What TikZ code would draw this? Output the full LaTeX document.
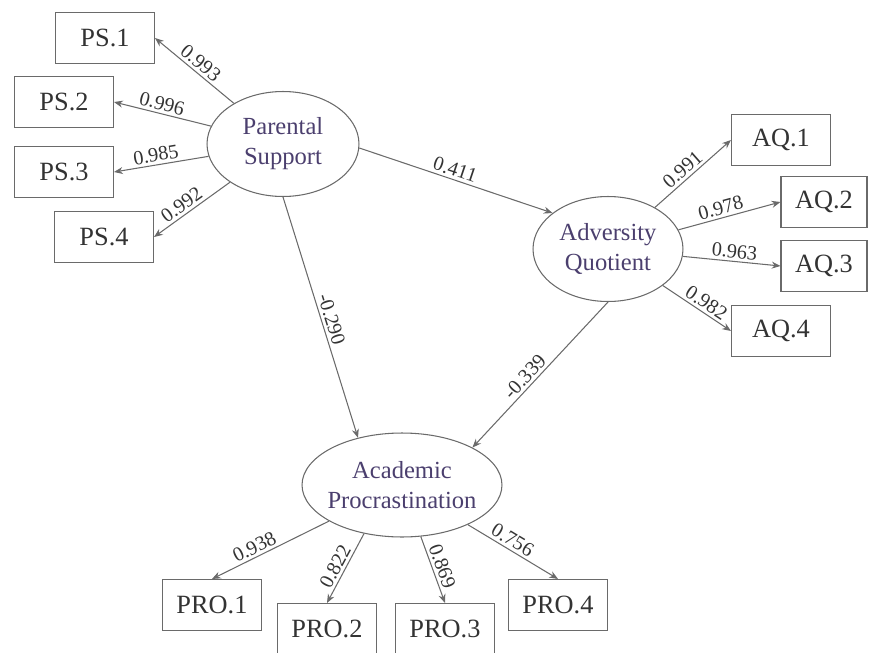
\documentclass[tikz,border=0pt]{standalone}
\usepackage{fontspec}
\setmainfont{Liberation Serif}
\usetikzlibrary{shapes.geometric,arrows.meta}
\definecolor{linegray}{HTML}{6A6A6A}
\definecolor{textgray}{HTML}{333333}
\definecolor{latentpurple}{HTML}{4B3F6E}
\tikzstyle{latent} = [ellipse, draw=linegray, line width=.6pt, minimum width=3.04cm, minimum height=2.1cm, align=center, inner xsep=-3pt, inner ysep=0pt, text=latentpurple, font=\fontsize{14}{17}\selectfont]
\tikzstyle{indicator} = [rectangle, draw=linegray, line width=.6pt, minimum width=1.98cm, minimum height=1.02cm, text=textgray, font=\fontsize{15}{17}\selectfont]
\tikzstyle{link} = [draw=linegray, line width=.6pt, -{Stealth[length=5pt,width=4pt]}]
\tikzstyle{coef} = [sloped, above, inner sep=1.5pt, text=textgray, font=\fontsize{11.5}{13}\selectfont]

\begin{document}
\begin{tikzpicture}[x=0.02cm,y=-0.02cm]
\useasboundingbox (0,0) rectangle (870,653);

% latent variables
\node (ps) [latent] at (283,144) {Parental\\Support};
\node (aq) [latent, minimum width=3cm] at (608,249) {Adversity\\Quotient};
\node (ap) [latent, minimum width=4cm, minimum height=2.08cm] at (402,485) {Academic\\Procrastination};
%
\node (ps1) [indicator] at (105,38) {PS.1};
\node (ps2) [indicator] at (64,102) {PS.2};
\node (ps3) [indicator] at (64,172) {PS.3};
\node (ps4) [indicator] at (104,237) {PS.4};
%
\node (aq1) [indicator] at (781,140) {AQ.1};
\node (aq2) [indicator, minimum width=1.72cm] at (824,202) {AQ.2};
\node (aq3) [indicator, minimum width=1.72cm] at (824,266) {AQ.3};
\node (aq4) [indicator] at (781,331) {AQ.4};
%
\node (pro1) [indicator] at (212,605) {PRO.1};
\node (pro2) [indicator] at (327,629) {PRO.2};
\node (pro3) [indicator] at (445,629) {PRO.3};
\node (pro4) [indicator] at (558,605) {PRO.4};

% structural paths
\draw [link] (ps.-3) -- node[coef, pos=.48] {0.411} (aq.147);
\draw [link] (ps.south) -- node[coef, pos=.52] {-0.290} (ap.133);
\draw [link] (aq.south) -- node[coef, pos=.56] {-0.339} (ap.28);

% loadings
\draw [link] (ps) -- node[coef, pos=.5] {0.993} (ps1.east);
\draw [link] (ps) -- node[coef, pos=.53] {0.996} (ps2.east);
\draw [link] (ps) -- node[coef, pos=.54] {0.985} (ps3.east);
\draw [link] (ps) -- node[coef, pos=.56] {0.992} (ps4.east);
%
\draw [link] (aq) -- node[coef, pos=.45] {0.991} (aq1.west);
\draw [link] (aq) -- node[coef, pos=.44] {0.978} (aq2.west);
\draw [link] (aq) -- node[coef, pos=.52] {0.963} (aq3.west);
\draw [link] (aq) -- node[coef, pos=.56] {0.982} (aq4.west);
%
\draw [link] (ap) -- node[coef, pos=.6] {0.938} (pro1.north);
\draw [link] (ap.232) -- node[coef, pos=.54] {0.822} (pro2.north);
\draw [link] (ap) -- node[coef, pos=.5] {0.869} (pro3.north);
\draw [link] (ap) -- node[coef, pos=.44] {0.756} (pro4.north);
\end{tikzpicture}
\end{document}
